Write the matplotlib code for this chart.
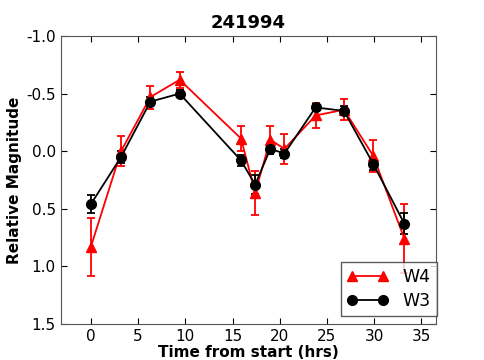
import matplotlib
matplotlib.use("Agg")
import matplotlib.pyplot as plt
from matplotlib.lines import Line2D

# time from start (hrs)
t = [0.0, 3.2, 6.3, 9.4, 15.9, 17.4, 19.0, 20.5, 23.8, 26.8, 29.9, 33.2]

# W4 (red triangles)
w4 = [0.83, 0.00, -0.47, -0.62, -0.11, 0.36, -0.10, -0.02, -0.31, -0.36, 0.04, 0.76]
w4_err = [0.25, 0.13, 0.10, 0.07, 0.11, 0.19, 0.12, 0.13, 0.11, 0.09, 0.14, 0.30]

# W3 (black circles)
w3 = [0.46, 0.05, -0.43, -0.50, 0.08, 0.29, -0.02, 0.02, -0.38, -0.35, 0.11, 0.63]
w3_err = [0.08, 0.05, 0.04, 0.03, 0.05, 0.08, 0.04, 0.04, 0.03, 0.04, 0.05, 0.09]

plt.rcParams['xtick.direction'] = 'in'
plt.rcParams['ytick.direction'] = 'in'
plt.rcParams['xtick.top'] = True
plt.rcParams['ytick.right'] = True
plt.rcParams['axes.unicode_minus'] = False

fig = plt.figure(figsize=(4.85, 3.6), dpi=100)
ax = fig.add_axes([0.125, 0.1, 0.775, 0.8])

ax.errorbar(t, w4, yerr=w4_err, color='red', marker='^', markersize=7,
            linewidth=1.3, elinewidth=1.3, capsize=3, capthick=1.3)
ax.errorbar(t, w3, yerr=w3_err, color='black', marker='o', markersize=7,
            linewidth=1.3, elinewidth=1.3, capsize=3, capthick=1.3)

ax.set_xlim(-3.2, 36.6)
ax.set_ylim(1.5, -1.0)
ax.set_xticks([0, 5, 10, 15, 20, 25, 30, 35])
ax.set_yticks([-1.0, -0.5, 0.0, 0.5, 1.0, 1.5])
ax.tick_params(labelsize=11, length=4, width=0.8)
for s in ax.spines.values():
    s.set_color('#555555')

ax.set_title('241994', fontsize=13, fontweight='bold')
ax.set_xlabel('Time from start (hrs)', fontsize=11, fontweight='bold', labelpad=1)
ax.set_ylabel('Relative Magnitude', fontsize=11, fontweight='bold', labelpad=3)

handles = [Line2D([], [], color='red', marker='^', markersize=7, linewidth=1.3),
           Line2D([], [], color='black', marker='o', markersize=7, linewidth=1.3)]
leg = ax.legend(handles, ['W4', 'W3'], loc='lower right', numpoints=2, fontsize=12.5,
                fancybox=False, handlelength=2.4, borderaxespad=0,
                labelspacing=0.35, borderpad=0.35, bbox_to_anchor=(1.0, 0.028))
leg.get_frame().set_edgecolor('#333333')

fig.savefig('out.png', dpi=100)
